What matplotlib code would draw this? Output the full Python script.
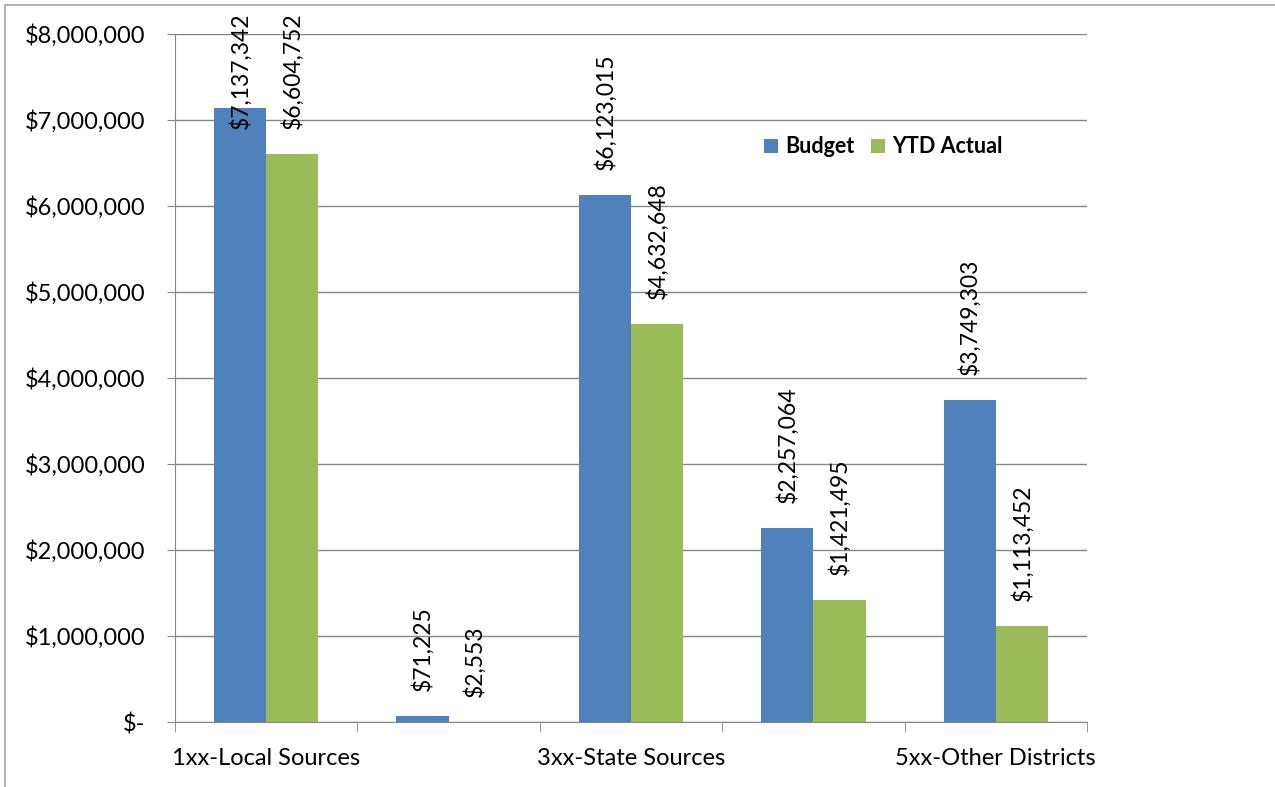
import matplotlib
matplotlib.use("Agg")
import matplotlib.pyplot as plt
import numpy as np
from matplotlib.patches import Rectangle

categories = ["1xx-Local Sources", "2xx-Intermediate Sources", "3xx-State Sources",
              "4xx-Federal Sources", "5xx-Other Districts"]
budget = [7137342, 71225, 6123015, 2257064, 3749303]
ytd_actual = [6604752, 2553, 4632648, 1421495, 1113452]
yticks = [0, 1000000, 2000000, 3000000, 4000000, 5000000, 6000000, 7000000, 8000000]

plt.rcParams['font.family'] = ['Lato', 'DejaVu Sans']

fig = plt.figure(figsize=(12.75, 7.87), dpi=100)
ax = fig.add_axes([175/1275, 1 - 722/787, 912/1275, 688/787])

blue = '#4F81BD'
green = '#9BBB59'
grey = '#868686'

x = np.arange(len(categories))
w = 1 / 3.5
ax.bar(x - w/2, budget, w, color=blue, label='Budget', zorder=3)
ax.bar(x + w/2, ytd_actual, w, color=green, label='YTD Actual', zorder=3)

# value labels, pushed down when they would run off the top
cap = 6610000
for xs, vals in [(x - w/2, budget), (x + w/2, ytd_actual)]:
    for xi, v in zip(xs, vals):
        ax.annotate("${:,}".format(v), xy=(xi, min(v, cap)), xytext=(0, 18),
                    textcoords='offset points', rotation=90, ha='center', va='bottom',
                    fontsize=16.5, zorder=4, annotation_clip=False)

ax.set_xlim(-0.5, len(categories) - 0.5)
ax.set_ylim(0, 8000000)
ax.set_yticks(yticks)
ax.set_yticklabels(["$-"] + ["${:,}".format(t) for t in yticks[1:]], fontsize=17)
ax.yaxis.grid(True, color=grey, lw=1, zorder=0)

ax.set_xticks(x)
ax.set_xticklabels([c if i % 2 == 0 else "" for i, c in enumerate(categories)], fontsize=17)
ax.tick_params(axis='x', length=0, pad=19)
ax.set_xticks(np.arange(-0.5, len(categories)), minor=True)
ax.tick_params(axis='x', which='minor', length=7, color=grey, direction='out')
ax.tick_params(axis='y', length=6, color=grey, direction='out', pad=15)

for s in ['top', 'right']:
    ax.spines[s].set_visible(False)
for s in ['left', 'bottom']:
    ax.spines[s].set_color(grey)

leg = ax.legend(loc='center left', bbox_to_anchor=(0.625, 0.836), ncol=2, frameon=False,
                prop={'weight': 'bold', 'size': 15.5}, handlelength=0.65, handleheight=0.65,
                handletextpad=0.3, columnspacing=0.8)

fig.patches.append(Rectangle((5/1275, -0.1), 1.2, 1.1 - 5/787, transform=fig.transFigure,
                             fill=False, edgecolor='#a6a6a6', lw=1.2))

fig.savefig("out.png", dpi=100)
